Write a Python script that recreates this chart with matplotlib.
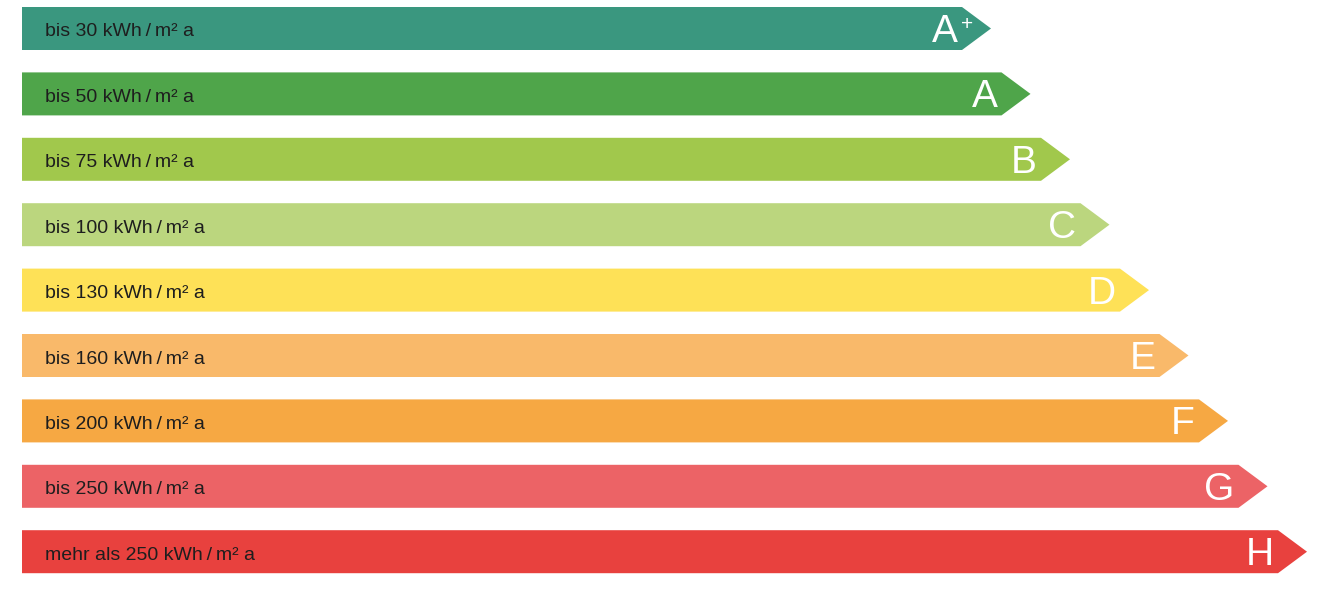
import matplotlib.pyplot as plt
from matplotlib.patches import Polygon

plt.rcParams['font.family'] = ['Liberation Sans', 'DejaVu Sans']

# energy classes, top to bottom
classes = ["A", "A", "B", "C", "D", "E", "F", "G", "H"]
plus_sign = [True, False, False, False, False, False, False, False, False]
labels = ["bis 30 kWh\u2009/\u2009m² a", "bis 50 kWh\u2009/\u2009m² a", "bis 75 kWh\u2009/\u2009m² a",
          "bis 100 kWh\u2009/\u2009m² a", "bis 130 kWh\u2009/\u2009m² a", "bis 160 kWh\u2009/\u2009m² a",
          "bis 200 kWh\u2009/\u2009m² a", "bis 250 kWh\u2009/\u2009m² a", "mehr als 250 kWh\u2009/\u2009m² a"]
colors = ["#3a977f", "#4fa54a", "#a1c84c", "#bbd67e", "#fee157",
          "#f9b96a", "#f6a843", "#ec6366", "#e8413e"]

W, H = 1323, 589
fig = plt.figure(figsize=(W / 100, H / 100), dpi=100)
ax = fig.add_axes([0, 0, 1, 1])
ax.set_xlim(0, W)
ax.set_ylim(H, 0)
ax.axis("off")

left = 22
first_end = 962
step_x = 39.5
tip = 29
bar_h = 43
first_y = 28.5
step_y = 65.4

for i, (cls, lab, col) in enumerate(zip(classes, labels, colors)):
    yc = first_y + i * step_y
    end = first_end + i * step_x
    pts = [(left, yc - bar_h / 2), (end, yc - bar_h / 2), (end + tip, yc),
           (end, yc + bar_h / 2), (left, yc + bar_h / 2)]
    ax.add_patch(Polygon(pts, closed=True, facecolor=col, edgecolor="none"))
    ax.text(45, yc + 8, lab, fontsize=14, color="#1e1e1e", va="baseline", ha="left")
    ax.text(end - 4, yc + 13.5, cls, fontsize=28, color="white", va="baseline", ha="right")
    if plus_sign[i]:
        ax.text(end + 5, yc + 1.5, "+", fontsize=15, color="white", va="baseline", ha="center")

fig.savefig("out.png", dpi=100, facecolor="white")
